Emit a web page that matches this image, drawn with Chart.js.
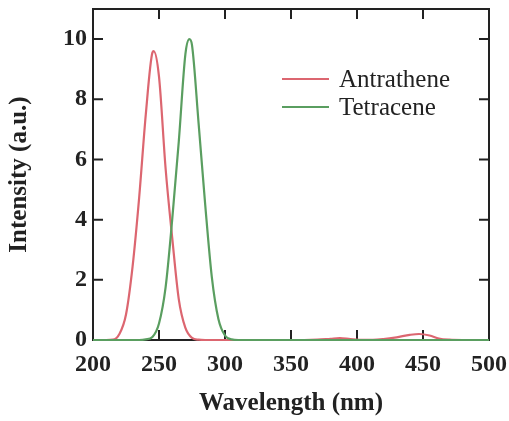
<!DOCTYPE html>
<html>
<head>
<meta charset="utf-8">
<script src="https://cdn.jsdelivr.net/npm/chart.js@4.4.0/dist/chart.umd.min.js"></script>
<style>
  html, body { margin: 0; padding: 0; background: #fff; }
  #spectra { display: block; }
</style>
</head>
<body>
<canvas id="spectra" width="509" height="421"></canvas>
<script>
// values: wavelength (nm) and intensity (a.u.)
var antraWl  = [200, 210, 215, 220, 225, 230, 235, 240, 245, 246, 250, 255, 260, 265, 270, 275, 280, 285, 300,
                360, 370, 380, 387, 395, 405, 412, 420, 430, 440, 447, 455, 462, 470, 480, 500];
var antraVal = [0, 0, 0.01, 0.2, 0.85, 2.45, 4.75, 7.5, 9.55, 9.6, 8.75, 5.7, 3.4, 1.35, 0.4, 0.07, 0.01, 0, 0,
                0, 0.01, 0.04, 0.06, 0.03, 0.005, 0.005, 0.03, 0.09, 0.17, 0.2, 0.15, 0.05, 0.01, 0, 0];
var tetraWl  = [200, 235, 240, 245, 250, 255, 260, 265, 270, 273, 275, 280, 285, 290, 295, 300, 305, 310, 500];
var tetraVal = [0, 0, 0.02, 0.1, 0.55, 1.75, 4.0, 6.6, 9.5, 10.0, 9.8, 7.2, 4.5, 2.1, 0.7, 0.15, 0.02, 0, 0];

var seriesNames  = ['Antrathene', 'Tetracene'];
var seriesColors = ['#dc6670', '#5a9e60'];
var xTicks = [200, 250, 300, 350, 400, 450, 500];
var yTicks = [0, 2, 4, 6, 8, 10];

var serif = "'Liberation Serif', 'Times New Roman', serif";
var ink = '#222';

function toPoints(xs, ys) {
    return xs.map(function(x, i) {
        return {x: x, y: ys[i]};
    });
}

// closed frame with inward ticks on all four sides, plus the inset legend
var frameTicks = {
    id: 'frameTicks',
    beforeDatasetsDraw: function(chart) {
        var ctx = chart.ctx;
        var a = chart.chartArea;
        var xs = chart.scales.x;
        var ys = chart.scales.y;
        var len = 10;
        ctx.save();
        ctx.strokeStyle = ink;
        ctx.lineWidth = 2;
        ctx.strokeRect(a.left, a.top, a.right - a.left, a.bottom - a.top);
        ctx.beginPath();
        xTicks.forEach(function(v) {
            if (v == xs.min || v == xs.max) {
                return;
            }
            var px = xs.getPixelForValue(v);
            ctx.moveTo(px, a.bottom);
            ctx.lineTo(px, a.bottom - len);
            ctx.moveTo(px, a.top);
            ctx.lineTo(px, a.top + len);
        });
        yTicks.forEach(function(v) {
            if (v == ys.min) {
                return;
            }
            var py = ys.getPixelForValue(v);
            ctx.moveTo(a.left, py);
            ctx.lineTo(a.left + len, py);
            ctx.moveTo(a.right, py);
            ctx.lineTo(a.right - len, py);
        });
        ctx.stroke();
        ctx.restore();
    },
    afterDatasetsDraw: function(chart) {
        var ctx = chart.ctx;
        var a = chart.chartArea;
        var x0 = a.left + 189;
        ctx.save();
        ctx.font = '25px ' + serif;
        ctx.textBaseline = 'alphabetic';
        chart.data.datasets.forEach(function(ds, i) {
            var y = a.top + 70 + i * 28;
            ctx.strokeStyle = ds.borderColor;
            ctx.lineWidth = 2;
            ctx.beginPath();
            ctx.moveTo(x0, y);
            ctx.lineTo(x0 + 47, y);
            ctx.stroke();
            ctx.fillStyle = ink;
            ctx.fillText(ds.label, x0 + 57, y + 8);
        });
        ctx.restore();
    }
};

var datasets = [
    {label: seriesNames[0], data: toPoints(antraWl, antraVal), borderColor: seriesColors[0], order: 1},
    {label: seriesNames[1], data: toPoints(tetraWl, tetraVal), borderColor: seriesColors[1], order: 0}
];
datasets.forEach(function(ds) {
    ds.borderWidth = 2.2;
    ds.pointRadius = 0;
    ds.fill = false;
    ds.clip = false;
    ds.cubicInterpolationMode = 'monotone';
});

new Chart(document.getElementById('spectra').getContext('2d'), {
    type: 'line',
    data: {datasets: datasets},
    options: {
        responsive: false,
        animation: false,
        layout: {padding: {top: 9, right: 20, left: 0, bottom: 0}},
        plugins: {
            legend: {display: false},
            tooltip: {enabled: false}
        },
        scales: {
            x: {
                type: 'linear',
                min: 200,
                max: 500,
                afterBuildTicks: function(scale) {
                    scale.ticks = xTicks.map(function(v) { return {value: v}; });
                },
                afterFit: function(scale) {
                    scale.height = 81;
                    scale.paddingLeft = 0;
                    scale.paddingRight = 0;
                },
                grid: {display: false, drawTicks: false},
                border: {display: false},
                ticks: {
                    padding: 10,
                    maxRotation: 0,
                    color: ink,
                    font: {family: serif, size: 24, weight: 'bold'}
                },
                title: {
                    display: true,
                    text: 'Wavelength (nm)',
                    color: ink,
                    padding: {top: 0, bottom: 2},
                    font: {family: serif, size: 25, weight: 'bold'}
                }
            },
            y: {
                type: 'linear',
                min: 0,
                max: 11,
                afterBuildTicks: function(scale) {
                    scale.ticks = yTicks.map(function(v) { return {value: v}; });
                },
                afterFit: function(scale) {
                    scale.width = 93;
                    scale.paddingTop = 0;
                    scale.paddingBottom = 0;
                },
                grid: {display: false, drawTicks: false},
                border: {display: false},
                ticks: {
                    padding: 6,
                    color: ink,
                    font: {family: serif, size: 24, weight: 'bold'}
                },
                title: {
                    display: true,
                    text: 'Intensity (a.u.)',
                    color: ink,
                    padding: {top: 5, bottom: 0},
                    font: {family: serif, size: 25, weight: 'bold'}
                }
            }
        }
    },
    plugins: [frameTicks]
});
</script>
</body>
</html>
